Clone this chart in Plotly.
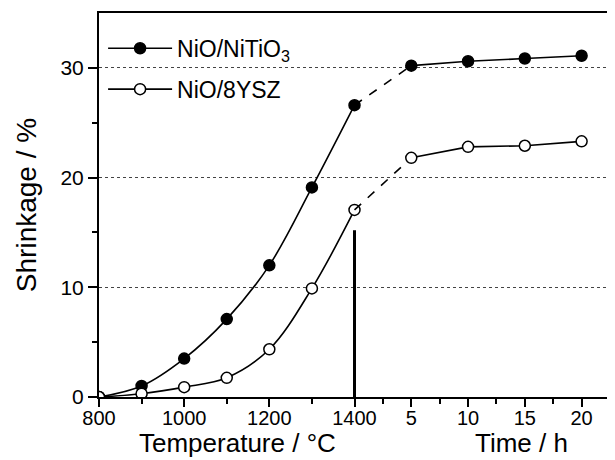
import plotly.graph_objects as go

# ---- data ----
temps = [800, 900, 1000, 1100, 1200, 1300, 1400]          # °C
times = [5, 10, 15, 20]                                     # h
nitio_temp = [0.0, 1.0, 3.5, 7.1, 12.0, 19.1, 26.6]
nitio_time = [30.2, 30.6, 30.85, 31.1]
ysz_temp = [0.0, 0.3, 0.9, 1.75, 4.35, 9.9, 17.05]
ysz_time = [21.8, 22.8, 22.9, 23.3]
hold_marker_top = 15.2       # height of the vertical bar at 1400 °C
temp_ticks = [800, 1000, 1200, 1400]
time_ticks = [5, 10, 15, 20]
temp_minor = [900, 1100, 1300]
time_minor = [2.5, 7.5, 12.5, 17.5]

# ---- combined axis mapping: 100 °C -> 1 unit, 5 h -> 4/3 unit after 1400 °C ----
def xt(t):
    return (t - 800) / 100.0

def xh(h):
    return xt(1400) + h / 5.0 * 4.0 / 3.0

x_temp = [xt(t) for t in temps]
x_time = [xh(h) for h in times]

BLACK = "#000000"
FONT = "Liberation Sans, Arial, sans-serif"

fig = go.Figure()

def add_series(name, yt, yh, filled, group):
    mk = dict(size=11, color=BLACK if filled else "white",
              line=dict(color=BLACK, width=1.5), symbol="circle")
    fig.add_trace(go.Scatter(x=x_temp, y=yt, mode="lines+markers", name=name,
                             legendgroup=group, showlegend=True,
                             line=dict(color=BLACK, width=1.6, shape="spline", smoothing=1.0),
                             marker=mk))
    fig.add_trace(go.Scatter(x=[x_temp[-1], x_time[0]], y=[yt[-1], yh[0]], mode="lines",
                             legendgroup=group, showlegend=False,
                             line=dict(color=BLACK, width=1.6, dash="dash")))
    fig.add_trace(go.Scatter(x=x_time, y=yh, mode="lines+markers",
                             legendgroup=group, showlegend=False,
                             line=dict(color=BLACK, width=1.6), marker=mk))

add_series("NiO/NiTiO<sub>3</sub>", nitio_temp, nitio_time, True, "a")
add_series("NiO/8YSZ", ysz_temp, ysz_time, False, "b")

# vertical bar marking end of heating
fig.add_trace(go.Scatter(x=[xt(1400), xt(1400)], y=[0, hold_marker_top], mode="lines",
                         showlegend=False, line=dict(color=BLACK, width=3)))

tickvals = [xt(t) for t in temp_ticks] + [xh(h) for h in time_ticks]
ticktext = [str(t) for t in temp_ticks] + [str(h) for h in time_ticks]
minorvals = [xt(t) for t in temp_minor] + [xh(h) for h in time_minor]

fig.update_layout(
    width=607, height=452,
    margin=dict(l=91, r=3, t=5, b=63),
    paper_bgcolor="white", plot_bgcolor="white",
    font=dict(family=FONT, color=BLACK, size=20),
    showlegend=True,
    legend=dict(x=0.008, y=0.964, xanchor="left", yanchor="top",
                bgcolor="rgba(0,0,0,0)", borderwidth=0,
                font=dict(size=23, family=FONT), itemwidth=64,
                traceorder="grouped", tracegroupgap=8),
    xaxis=dict(range=[0, 12], tickmode="array", tickvals=tickvals, ticktext=ticktext,
               showgrid=False, zeroline=False, showline=True, linecolor=BLACK, linewidth=2,
               mirror=True, ticks="outside", ticklen=8, tickwidth=1.5, tickcolor=BLACK,
               tickfont=dict(size=20, family=FONT), ticklabelstandoff=-6,
               minor=dict(tickmode="array", tickvals=minorvals, ticks="outside",
                          ticklen=5, tickwidth=1.5, tickcolor=BLACK, showgrid=False)),
    yaxis=dict(range=[0, 35], tickmode="array", tickvals=[0, 10, 20, 30],
               showgrid=True, gridcolor="#444444", gridwidth=1, griddash="dot",
               zeroline=False, showline=True, linecolor=BLACK, linewidth=2,
               mirror=True, ticks="outside", ticklen=9, tickwidth=1.5, tickcolor=BLACK,
               tickfont=dict(size=21, family=FONT),
               title=dict(text="Shrinkage / %", font=dict(size=28, family=FONT), standoff=16),
               minor=dict(tickmode="array", tickvals=[5, 15, 25], ticks="outside",
                          ticklen=5, tickwidth=1.5, tickcolor=BLACK, showgrid=False)),
)

fig.add_annotation(text="Temperature / °C", xref="paper", yref="paper", x=0.271, y=0,
                   xanchor="center", yanchor="bottom", yshift=-63, showarrow=False,
                   font=dict(size=26, family=FONT, color=BLACK))
fig.add_annotation(text="Time / h", xref="paper", yref="paper", x=0.826, y=0,
                   xanchor="center", yanchor="bottom", yshift=-63, showarrow=False,
                   font=dict(size=26, family=FONT, color=BLACK))

fig.write_html("out.html")
